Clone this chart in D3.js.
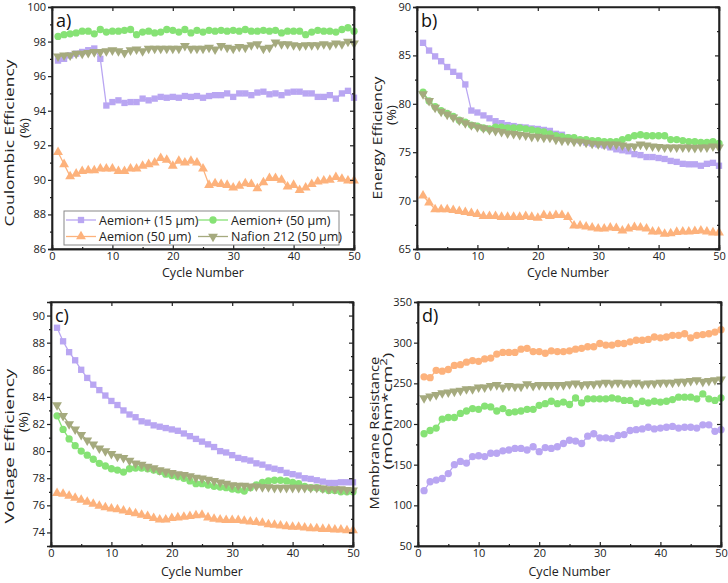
<!DOCTYPE html>
<html><head><meta charset="utf-8">
<script src="https://cdn.jsdelivr.net/npm/d3@7/dist/d3.min.js"></script>
<style>body{margin:0;background:#fff}text{font-family:"Open Sans",sans-serif}</style>
</head><body><svg id="c" width="728" height="583"></svg>
<script>
const cycles = d3.range(1, 51);
const seriesNames = ["Aemion+ (15 µm)", "Aemion+ (50 µm)", "Aemion (50 µm)", "Nafion 212 (50 µm)"];
const seriesColors = ["#b9a6f2", "#86e275", "#fdb27c", "#a5aa7e"];

// a) Coulombic efficiency
const ceAp15 = [96.9,97.0,97.2,97.3,97.4,97.5,97.6,97.0,94.3,94.5,94.6,94.45,94.5,94.5,94.7,94.6,94.7,94.8,94.75,94.8,94.75,94.85,94.8,94.85,94.75,94.85,94.9,94.9,95.0,94.8,95.0,95.0,94.9,95.05,95.1,94.95,95.0,94.9,95.05,95.1,95.1,95.0,95.0,94.8,94.8,94.9,94.7,95.0,95.15,94.75];
const ceAp50 = [98.3,98.4,98.45,98.5,98.6,98.6,98.45,98.7,98.55,98.6,98.6,98.65,98.7,98.4,98.55,98.6,98.5,98.55,98.7,98.65,98.55,98.7,98.5,98.65,98.55,98.65,98.6,98.65,98.6,98.65,98.6,98.7,98.6,98.6,98.65,98.6,98.65,98.5,98.6,98.6,98.6,98.4,98.55,98.65,98.6,98.6,98.55,98.7,98.8,98.6];
const ceA50 = [91.6,90.9,90.2,90.35,90.5,90.55,90.55,90.65,90.65,90.65,90.5,90.5,90.65,90.65,90.8,90.9,91.0,91.25,91.15,90.8,91.1,91.0,91.1,91.0,90.65,89.7,89.8,89.75,89.7,89.55,89.65,89.8,89.75,89.5,89.85,90.1,90.1,90.0,89.6,89.7,89.4,89.55,89.75,89.9,89.95,90.0,90.15,90.05,89.95,89.95];
const ceNaf = [97.15,97.2,97.2,97.3,97.3,97.35,97.4,97.4,97.45,97.5,97.45,97.35,97.5,97.55,97.45,97.6,97.6,97.6,97.6,97.6,97.6,97.75,97.6,97.6,97.6,97.65,97.55,97.75,97.65,97.6,97.7,97.65,97.8,97.85,97.6,97.65,97.95,97.85,97.85,97.8,97.75,97.8,97.8,97.8,97.85,97.8,97.9,97.85,98.0,97.9];

// b) Energy efficiency
const eeAp15 = [86.3,85.5,84.9,84.4,83.8,83.3,82.9,82.0,79.3,79.1,78.8,78.5,78.2,78.0,77.8,77.7,77.6,77.55,77.45,77.4,77.3,77.2,76.9,76.8,76.5,76.3,76.2,76.0,75.9,75.8,75.7,75.5,75.3,75.2,75.1,74.8,74.7,74.5,74.5,74.4,74.3,74.1,74.0,73.8,73.75,73.75,73.6,73.8,73.9,73.6];
const eeAp50 = [81.2,80.3,79.7,79.3,79.0,78.7,78.3,78.1,77.8,77.7,77.5,77.4,77.6,77.6,77.5,77.5,77.5,77.4,77.3,77.2,77.1,76.9,76.7,76.6,76.5,76.5,76.3,76.3,76.2,76.2,76.1,76.1,76.1,76.3,76.5,76.7,76.8,76.7,76.7,76.7,76.7,76.3,76.3,76.2,76.1,76.1,76.0,76.0,76.1,75.9];
const eeA50 = [70.5,69.8,69.1,69.1,69.1,69.0,68.9,68.8,68.7,68.6,68.4,68.4,68.4,68.3,68.3,68.3,68.3,68.4,68.3,68.2,68.5,68.4,68.5,68.5,68.3,67.4,67.4,67.3,67.2,67.1,67.1,67.2,67.15,66.9,67.1,67.25,67.2,67.1,66.8,66.8,66.55,66.6,66.75,66.8,66.8,66.85,66.9,66.8,66.7,66.7];
const eeNaf = [81.0,80.3,79.6,79.2,78.9,78.6,78.3,78.0,77.8,77.6,77.5,77.3,77.2,77.1,76.95,76.9,76.8,76.75,76.6,76.6,76.5,76.5,76.3,76.2,76.2,76.1,76.1,76.0,75.9,75.85,75.8,75.8,75.8,75.7,75.6,75.6,75.8,75.7,75.6,75.55,75.5,75.5,75.5,75.5,75.5,75.45,75.5,75.5,75.6,75.5];

// c) Voltage efficiency
const veAp15 = [89.1,88.1,87.3,86.7,86.0,85.4,84.9,84.5,84.1,83.7,83.4,83.0,82.7,82.5,82.2,82.1,81.9,81.8,81.7,81.6,81.5,81.3,81.1,80.9,80.7,80.5,80.3,80.0,79.9,79.7,79.5,79.4,79.3,79.1,79.0,78.8,78.7,78.6,78.4,78.3,78.2,78.0,77.95,77.85,77.75,77.65,77.65,77.7,77.7,77.7];
const veAp50 = [82.6,81.6,80.9,80.4,80.0,79.7,79.4,79.1,78.9,78.7,78.6,78.45,78.7,78.75,78.75,78.7,78.6,78.5,78.3,78.2,78.1,78.0,77.8,77.6,77.6,77.5,77.4,77.35,77.3,77.2,77.15,77.05,77.3,77.5,77.7,77.8,77.85,77.85,77.8,77.7,77.6,77.4,77.3,77.3,77.2,77.1,77.1,77.0,77.0,77.0];
const veA50 = [76.9,76.85,76.7,76.55,76.4,76.25,76.1,75.95,75.85,75.75,75.7,75.6,75.5,75.4,75.3,75.2,75.05,74.95,74.95,75.05,75.1,75.15,75.2,75.25,75.3,75.1,75.0,74.95,74.9,74.9,74.9,74.85,74.8,74.75,74.7,74.6,74.55,74.5,74.45,74.4,74.4,74.35,74.3,74.3,74.25,74.25,74.2,74.2,74.15,74.15];
const veNaf = [83.4,82.6,82.0,81.6,81.2,80.8,80.5,80.2,80.0,79.8,79.6,79.5,79.3,79.1,79.0,78.85,78.75,78.6,78.5,78.4,78.3,78.25,78.15,78.05,78.0,77.9,77.8,77.7,77.6,77.5,77.45,77.45,77.4,77.4,77.35,77.35,77.3,77.3,77.3,77.3,77.3,77.3,77.3,77.3,77.25,77.2,77.2,77.2,77.15,77.1];

// d) Membrane resistance
const mrAp15 = [118,129,131,133,139,150,154,152,160,161,160,164,164,167,168,170,170,168,172,166,171,170,172,176,180,179,176,185,188,183,183,182,186,187,192,193,194,196,194,195,196,197,195,196,196,195,199,199,191,193];
const mrAp50 = [188,192,195,206,208,208,213,216,219,218,222,221,216,219,214,215,216,218,218,223,225,228,225,227,224,232,226,231,231,231,231,232,231,229,229,225,228,226,228,227,228,230,233,233,233,231,237,231,229,232];
const mrA50 = [258,257,266,265,267,272,273,276,278,277,280,281,286,288,288,288,292,293,289,289,287,290,289,289,290,292,293,295,295,299,297,297,299,299,301,303,303,304,307,306,307,309,309,311,306,309,310,311,313,316];
const mrNaf = [232,234,236,238,239,240,241,243,243,245,245,247,248,245,247,246,246,249,247,248,248,248,248,248,249,250,248,249,249,250,251,250,251,250,250,251,249,250,250,251,251,251,252,252,253,254,252,253,254,255];

const xTicks = [0,10,20,30,40,50];
const yTicksA = [86,88,90,92,94,96,98,100];
const yTicksB = [65,70,75,80,85,90];
const yTicksC = [74,76,78,80,82,84,86,88,90];
const yTicksD = [50,100,150,200,250,300,350];

const svg = d3.select("#c");

const panels = [
  {label:"a)", rect:[52,7,354,249], ydom:[86,100], yticks:yTicksA, ytitle:["Coulombic Efficiency","(%)"],
   data:[ceAp15,ceAp50,ceA50,ceNaf], shapes:["square","circle","triangle","tridown"], legend:true,
   t1:{dx:-38, cy:143, len:167}, t2:{dx:-23, cy:128, len:20}, xt:28},
  {label:"b)", rect:[417,7,719,249], ydom:[65,90], yticks:yTicksB, ytitle:["Energy Efficiency","(%)"],
   data:[eeAp15,eeAp50,eeA50,eeNaf], shapes:["square","circle","triangle","tridown"],
   t1:{dx:-35, cy:138, len:123}, t2:{dx:-21, cy:115, len:20}, xt:28},
  {label:"c)", rect:[51,302,353,546], ydom:[73,91], yticks:yTicksC, ytitle:["Voltage Efficiency","(%)"],
   data:[veAp15,veAp50,veA50,veNaf], shapes:["square","circle","triangle","tridown"],
   t1:{dx:-37, cy:446, len:155}, t2:{dx:-23, cy:422, len:20}, xt:30},
  {label:"d)", rect:[418,302,721,546], ydom:[50,350], yticks:yTicksD, ytitle:["Membrane Resistance","(mOhm*cm2)"],
   data:[mrAp15,mrAp50,mrA50,mrNaf], shapes:["circle","circle","circle","tridown"], sup:true,
   t1:{dx:-39, cy:433, len:153}, t2:{dx:-26, cy:411, len:117}, xt:30}
];

function sym(shape){
  if(shape==="square") return d3.symbol().type(d3.symbolSquare).size(40)();
  if(shape==="circle") return d3.symbol().type(d3.symbolCircle).size(42)();
  return d3.symbol().type(d3.symbolTriangle).size(42)();
}

function stretchTitle(sel, tx, ty, target){
  sel.attr("transform",`translate(${tx},${ty}) rotate(-90)`);
  const w = sel.node().getComputedTextLength();
  const s = w > 0 ? target / w : 1;
  sel.attr("transform",`translate(${tx},${ty}) rotate(-90) scale(${s},1)`);
}

panels.forEach(p=>{
  const [x0,y0,x1,y1] = p.rect;
  const x = d3.scaleLinear().domain([0,50]).range([x0,x1]);
  const y = d3.scaleLinear().domain(p.ydom).range([y1,y0]);
  const g = svg.append("g");
  const step = p.yticks[1]-p.yticks[0];
  const yMinor = d3.range(p.ydom[0], p.ydom[1]+1e-9, step/2).filter(v=>!p.yticks.includes(+v.toFixed(6)));
  const xMinor = [5,15,25,35,45];

  const line = d3.line().x((d,i)=>x(cycles[i])).y(d=>y(d));
  [0,1,2,3].forEach(k=>{
    const gs = g.append("g");
    gs.append("path").attr("d", line(p.data[k])).attr("fill","none").attr("stroke",seriesColors[k]).attr("stroke-width",1.3);
    gs.selectAll("path.m").data(p.data[k]).join("path").attr("class","m")
      .attr("d", sym(p.shapes[k]))
      .attr("transform",(d,i)=>`translate(${x(cycles[i])},${y(d)})${p.shapes[k]==="tridown"?" rotate(180)":""}`)
      .attr("fill",seriesColors[k]);
  });

  g.append("g").attr("transform",`translate(0,${y1})`)
    .call(d3.axisBottom(x).tickValues(xTicks).tickSize(-4).tickPadding(3).tickFormat(d3.format("d")));
  g.append("g").attr("transform",`translate(0,${y1})`)
    .call(d3.axisBottom(x).tickValues(xMinor).tickSize(-2).tickFormat(""));
  g.append("g").attr("transform",`translate(0,${y0})`)
    .call(d3.axisTop(x).tickValues(xTicks).tickSize(-4).tickFormat(""));
  g.append("g").attr("transform",`translate(${x0},0)`)
    .call(d3.axisLeft(y).tickValues(p.yticks).tickSize(4).tickPadding(2).tickFormat(d3.format("d")));
  g.append("g").attr("transform",`translate(${x0},0)`)
    .call(d3.axisLeft(y).tickValues(yMinor).tickSize(2).tickFormat(""));
  g.append("g").attr("transform",`translate(${x1},0)`)
    .call(d3.axisRight(y).tickValues(p.yticks).tickSize(-4).tickFormat(""));
  g.append("g").attr("transform",`translate(${x1},0)`)
    .call(d3.axisRight(y).tickValues(yMinor).tickSize(-2).tickFormat(""));
  g.selectAll(".domain").attr("stroke","#222").attr("stroke-width",1.4);
  g.selectAll(".tick line").attr("stroke","#222").attr("stroke-width",1.2);
  g.selectAll(".tick text").attr("font-size",11).attr("fill","#222").attr("font-family","'Open Sans',sans-serif");

  g.append("rect").attr("x",x0).attr("y",y0).attr("width",x1-x0).attr("height",y1-y0)
    .attr("fill","none").attr("stroke","#222").attr("stroke-width",1.4);

  g.append("text").attr("x",x0+4).attr("y",y0+20).attr("font-size",18).attr("fill","#111").text(p.label);

  g.append("text").attr("x",(x0+x1)/2).attr("y",y1+p.xt).attr("text-anchor","middle")
    .attr("font-size",12.5).attr("fill","#222").text("Cycle Number");

  const t1 = g.append("text").attr("text-anchor","middle").attr("font-size",13.5).attr("fill","#222").text(p.ytitle[0]);
  stretchTitle(t1, x0+p.t1.dx, p.t1.cy, p.t1.len);
  const t2 = g.append("text").attr("text-anchor","middle").attr("font-size",13.5).attr("fill","#222");
  if(p.sup){
    t2.append("tspan").text("(mOhm*cm");
    t2.append("tspan").attr("dy",-5).attr("font-size",9.5).text("2");
    t2.append("tspan").attr("dy",5).text(")");
  } else {
    t2.text(p.ytitle[1]);
  }
  stretchTitle(t2, x0+p.t2.dx, p.t2.cy, p.t2.len);

  if(p.legend){
    const lg = g.append("g");
    lg.append("rect").attr("x",x0+12).attr("y",y1-38).attr("width",275).attr("height",34)
      .attr("fill","#fff").attr("stroke","#888").attr("stroke-width",1);
    const pos = [[0,0],[1,0],[0,1],[1,1]];
    const colX = [x0+14, x0+146];
    const rowY = [y1-29, y1-12.5];
    [0,1,2,3].forEach(k=>{
      const lx = colX[pos[k][0]], ly = rowY[pos[k][1]];
      lg.append("line").attr("x1",lx).attr("x2",lx+30).attr("y1",ly).attr("y2",ly).attr("stroke",seriesColors[k]).attr("stroke-width",1.3);
      lg.append("path").attr("d",sym(p.shapes[k])).attr("transform",`translate(${lx+15},${ly})${p.shapes[k]==="tridown"?" rotate(180)":""}`).attr("fill",seriesColors[k]);
      lg.append("text").attr("x",lx+33).attr("y",ly+4.5).attr("font-size",12.5).attr("fill","#222").text(seriesNames[k]);
    });
  }
});
</script></body></html>
